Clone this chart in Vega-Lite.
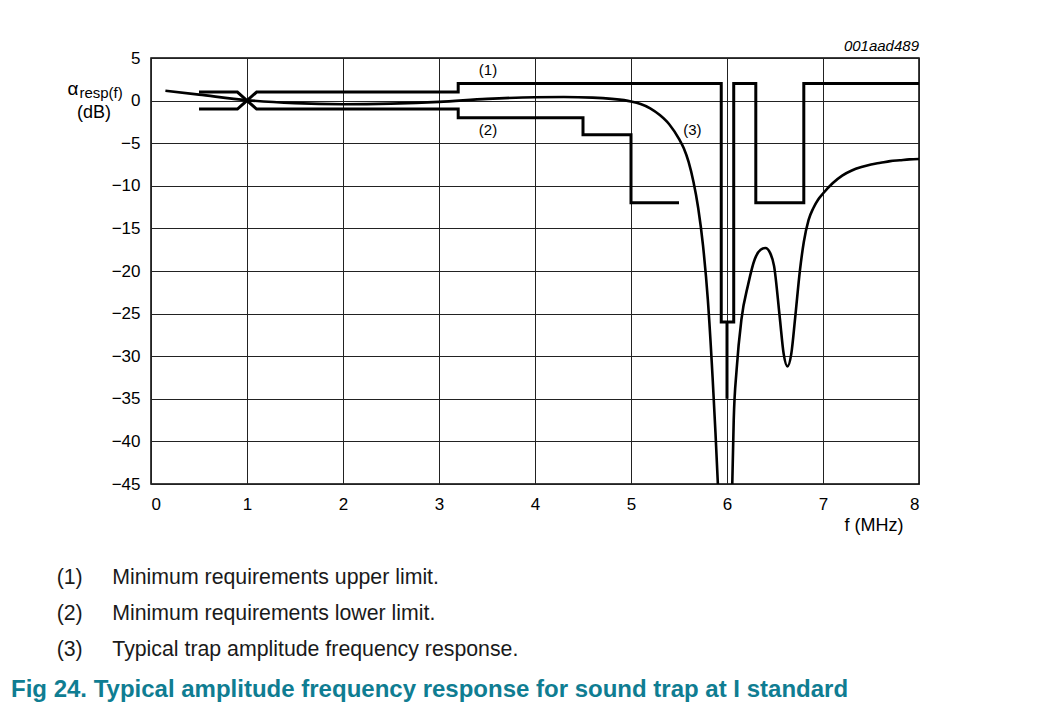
{
  "$schema": "https://vega.github.io/schema/vega-lite/v6.json",
  "width": 768,
  "height": 426,
  "autosize": "none",
  "padding": {"left": 151, "top": 58, "right": 144, "bottom": 227},
  "background": "white",
  "config": {
    "font": "Liberation Sans",
    "view": {"stroke": "#000", "strokeWidth": 1.5},
    "axis": {"grid": true, "gridColor": "#222", "gridWidth": 1, "gridOpacity": 1, "domain": false, "ticks": false, "labelFont": "Liberation Sans", "labelFontSize": 17, "labelColor": "#000"}
  },
  "title": {
    "text": ["\u200b\u00a0\u00a0\u00a0\u00a0\u00a0\u00a0\u00a0\u2009(1)\u00a0\u00a0\u00a0\u00a0\u00a0Minimum requirements upper limit.", "\u200b\u00a0\u00a0\u00a0\u00a0\u00a0\u00a0\u00a0\u2009(2)\u00a0\u00a0\u00a0\u00a0\u00a0Minimum requirements lower limit.", "\u200b\u00a0\u00a0\u00a0\u00a0\u00a0\u00a0\u00a0\u2009(3)\u00a0\u00a0\u00a0\u00a0\u00a0Typical trap amplitude frequency response."],
    "subtitle": "Fig 24. Typical amplitude frequency response for sound trap at I standard",
    "orient": "bottom",
    "anchor": "start",
    "frame": "group",
    "dx": -140,
    "offset": 33,
    "font": "Liberation Sans",
    "fontSize": 21.3,
    "fontWeight": "normal",
    "color": "#1a1a1a",
    "lineHeight": 36,
    "subtitleFont": "Liberation Sans",
    "subtitleFontSize": 24,
    "subtitleFontWeight": "bold",
    "subtitleColor": "#0f7d92",
    "subtitlePadding": 18
  },
  "datasets": {
    "lines": [
      {"s": "upper", "i": 0, "f": 0.5, "a": 1},
      {"s": "upper", "i": 1, "f": 0.9, "a": 1},
      {"s": "upper", "i": 2, "f": 1.0, "a": 0},
      {"s": "upper", "i": 3, "f": 1.1, "a": 1},
      {"s": "upper", "i": 4, "f": 3.2, "a": 1},
      {"s": "upper", "i": 5, "f": 3.2, "a": 2},
      {"s": "upper", "i": 6, "f": 5.94, "a": 2},
      {"s": "upper", "i": 7, "f": 5.94, "a": -26},
      {"s": "upper", "i": 8, "f": 6.07, "a": -26},
      {"s": "upper", "i": 9, "f": 6.07, "a": 2},
      {"s": "upper", "i": 10, "f": 6.3, "a": 2},
      {"s": "upper", "i": 11, "f": 6.3, "a": -12},
      {"s": "upper", "i": 12, "f": 6.8, "a": -12},
      {"s": "upper", "i": 13, "f": 6.8, "a": 2},
      {"s": "upper", "i": 14, "f": 8.0, "a": 2},
      {"s": "spike", "i": 0, "f": 6.0, "a": -26},
      {"s": "spike", "i": 1, "f": 6.0, "a": -35},
      {"s": "lower", "i": 0, "f": 0.5, "a": -1},
      {"s": "lower", "i": 1, "f": 0.9, "a": -1},
      {"s": "lower", "i": 2, "f": 1.0, "a": 0},
      {"s": "lower", "i": 3, "f": 1.1, "a": -1},
      {"s": "lower", "i": 4, "f": 3.2, "a": -1},
      {"s": "lower", "i": 5, "f": 3.2, "a": -2},
      {"s": "lower", "i": 6, "f": 4.5, "a": -2},
      {"s": "lower", "i": 7, "f": 4.5, "a": -4},
      {"s": "lower", "i": 8, "f": 5.0, "a": -4},
      {"s": "lower", "i": 9, "f": 5.0, "a": -12},
      {"s": "lower", "i": 10, "f": 5.5, "a": -12}
    ],
    "curves": [
      {"s": "curveA", "f": 0.15, "a": 1.15},
      {"s": "curveA", "f": 0.5, "a": 0.7},
      {"s": "curveA", "f": 1.0, "a": 0.05},
      {"s": "curveA", "f": 1.5, "a": -0.3},
      {"s": "curveA", "f": 2.0, "a": -0.42},
      {"s": "curveA", "f": 2.5, "a": -0.35},
      {"s": "curveA", "f": 3.0, "a": -0.15},
      {"s": "curveA", "f": 3.5, "a": 0.2},
      {"s": "curveA", "f": 4.0, "a": 0.4},
      {"s": "curveA", "f": 4.3, "a": 0.42},
      {"s": "curveA", "f": 4.6, "a": 0.35},
      {"s": "curveA", "f": 4.8, "a": 0.2},
      {"s": "curveA", "f": 5.0, "a": -0.1},
      {"s": "curveA", "f": 5.1, "a": -0.4},
      {"s": "curveA", "f": 5.2, "a": -0.9},
      {"s": "curveA", "f": 5.3, "a": -1.7},
      {"s": "curveA", "f": 5.4, "a": -2.8},
      {"s": "curveA", "f": 5.5, "a": -4.5},
      {"s": "curveA", "f": 5.55, "a": -5.6},
      {"s": "curveA", "f": 5.6, "a": -7.2},
      {"s": "curveA", "f": 5.65, "a": -9.5},
      {"s": "curveA", "f": 5.7, "a": -12.6},
      {"s": "curveA", "f": 5.75, "a": -17},
      {"s": "curveA", "f": 5.8, "a": -23.3},
      {"s": "curveA", "f": 5.85, "a": -32.5},
      {"s": "curveA", "f": 5.88, "a": -39},
      {"s": "curveA", "f": 5.905, "a": -45},
      {"s": "curveB", "f": 6.055, "a": -45},
      {"s": "curveB", "f": 6.07, "a": -37.5},
      {"s": "curveB", "f": 6.1, "a": -31.6},
      {"s": "curveB", "f": 6.15, "a": -25.7},
      {"s": "curveB", "f": 6.22, "a": -21.6},
      {"s": "curveB", "f": 6.29, "a": -18.6},
      {"s": "curveB", "f": 6.35, "a": -17.5},
      {"s": "curveB", "f": 6.4, "a": -17.3},
      {"s": "curveB", "f": 6.45, "a": -17.9},
      {"s": "curveB", "f": 6.49, "a": -19.4},
      {"s": "curveB", "f": 6.55, "a": -25.5},
      {"s": "curveB", "f": 6.59, "a": -29.7},
      {"s": "curveB", "f": 6.63, "a": -31.2},
      {"s": "curveB", "f": 6.67, "a": -29.7},
      {"s": "curveB", "f": 6.71, "a": -25.5},
      {"s": "curveB", "f": 6.76, "a": -19.9},
      {"s": "curveB", "f": 6.8, "a": -16.6},
      {"s": "curveB", "f": 6.85, "a": -14.0},
      {"s": "curveB", "f": 6.9, "a": -12.6},
      {"s": "curveB", "f": 6.95, "a": -11.6},
      {"s": "curveB", "f": 7.0, "a": -10.9},
      {"s": "curveB", "f": 7.1, "a": -9.7},
      {"s": "curveB", "f": 7.2, "a": -8.8},
      {"s": "curveB", "f": 7.3, "a": -8.2},
      {"s": "curveB", "f": 7.4, "a": -7.8},
      {"s": "curveB", "f": 7.5, "a": -7.5},
      {"s": "curveB", "f": 7.6, "a": -7.3},
      {"s": "curveB", "f": 7.7, "a": -7.1},
      {"s": "curveB", "f": 7.8, "a": -7.0},
      {"s": "curveB", "f": 7.9, "a": -6.9},
      {"s": "curveB", "f": 8.0, "a": -6.85}
    ],
    "labels": [
      {"f": 3.51, "a": 3.6, "t": "(1)"},
      {"f": 3.51, "a": -3.5, "t": "(2)"},
      {"f": 5.64, "a": -3.5, "t": "(3)"}
    ],
    "ylab": [
      {"f": -0.8125, "a": 0.66, "t": "α"}
    ],
    "ysub": [
      {"f": -0.746, "a": 0.27, "t": "resp(f)"}
    ],
    "yunit": [
      {"f": -0.594, "a": -1.46, "t": "(dB)"}
    ],
    "code": [
      {"f": 8.0, "a": 6.4, "t": "001aad489"}
    ]
  },
  "layer": [
    {
      "data": {"name": "lines"},
      "mark": {"type": "line", "color": "#000", "strokeJoin": "miter", "strokeCap": "butt", "clip": true},
      "encoding": {
        "x": {"field": "f", "type": "quantitative", "scale": {"domain": [0, 8], "nice": false}, "axis": {"values": [0, 1, 2, 3, 4, 5, 6, 7, 8], "format": "d", "labelPadding": 12, "title": "f (MHz)", "titleFont": "Liberation Sans", "titleFontSize": 18, "titleFontWeight": "normal", "titleColor": "#000", "titleAnchor": "end", "titleAlign": "right", "titleBaseline": "alphabetic", "titleX": 752, "titleY": 46}},
        "y": {"field": "a", "type": "quantitative", "scale": {"domain": [-45, 5], "nice": false}, "axis": {"values": [5, 0, -5, -10, -15, -20, -25, -30, -35, -40, -45], "labelPadding": 11, "title": null}},
        "detail": {"field": "s"},
        "order": {"field": "i"},
        "strokeWidth": {"field": "s", "type": "nominal", "scale": {"domain": ["upper", "lower", "spike"], "range": [3, 3, 2]}, "legend": null}
      }
    },
    {
      "data": {"name": "curves"},
      "mark": {"type": "line", "color": "#000", "strokeWidth": 2.6, "interpolate": "monotone", "strokeCap": "butt", "clip": true},
      "encoding": {
        "x": {"field": "f", "type": "quantitative"},
        "y": {"field": "a", "type": "quantitative"},
        "detail": {"field": "s"}
      }
    },
    {
      "data": {"name": "labels"},
      "mark": {"type": "text", "font": "Liberation Sans", "fontSize": 15, "color": "#000", "align": "center", "baseline": "middle"},
      "encoding": {
        "x": {"field": "f", "type": "quantitative"},
        "y": {"field": "a", "type": "quantitative"},
        "text": {"field": "t"}
      }
    },
    {
      "data": {"name": "ylab"},
      "mark": {"type": "text", "font": "Liberation Sans", "fontSize": 19, "color": "#000", "align": "center", "baseline": "alphabetic", "clip": false},
      "encoding": {
        "x": {"field": "f", "type": "quantitative"},
        "y": {"field": "a", "type": "quantitative"},
        "text": {"field": "t"}
      }
    },
    {
      "data": {"name": "ysub"},
      "mark": {"type": "text", "font": "Liberation Sans", "fontSize": 15, "color": "#000", "align": "left", "baseline": "alphabetic", "clip": false},
      "encoding": {
        "x": {"field": "f", "type": "quantitative"},
        "y": {"field": "a", "type": "quantitative"},
        "text": {"field": "t"}
      }
    },
    {
      "data": {"name": "yunit"},
      "mark": {"type": "text", "font": "Liberation Sans", "fontSize": 18, "color": "#000", "align": "center", "baseline": "middle", "clip": false},
      "encoding": {
        "x": {"field": "f", "type": "quantitative"},
        "y": {"field": "a", "type": "quantitative"},
        "text": {"field": "t"}
      }
    },
    {
      "data": {"name": "code"},
      "mark": {"type": "text", "font": "Liberation Sans", "fontSize": 15, "fontStyle": "italic", "color": "#000", "align": "right", "baseline": "middle", "clip": false},
      "encoding": {
        "x": {"field": "f", "type": "quantitative"},
        "y": {"field": "a", "type": "quantitative"},
        "text": {"field": "t"}
      }
    }
  ]
}
